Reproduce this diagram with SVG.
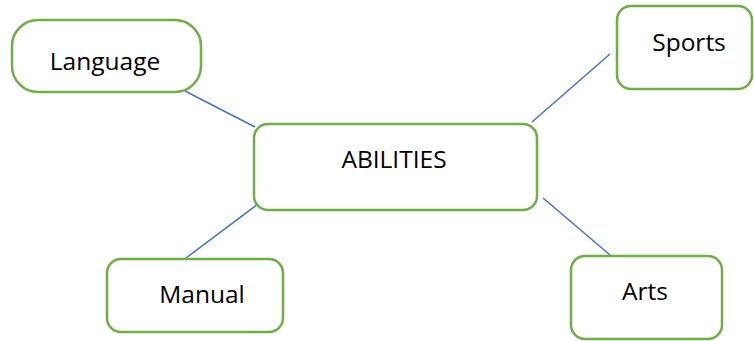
<svg xmlns="http://www.w3.org/2000/svg" width="754" height="341" viewBox="0 0 754 341">
<style>
.box{fill:#fff;stroke:#70AD47;stroke-width:2.5}
.lbl{font-family:"Open Sans","Liberation Sans",sans-serif;font-size:24.5px;fill:#000;text-anchor:middle}
.conn line{stroke:#4472C4;stroke-width:1.5}
</style>
<rect width="754" height="341" fill="#fff"/>
<g id="connectors" class="conn">
<line x1="185" y1="91" x2="255" y2="127"/>
<line x1="610" y1="54" x2="532" y2="122"/>
<line x1="266" y1="198" x2="186" y2="258"/>
<line x1="543" y1="198" x2="610" y2="255"/>
</g>
<g id="language"><rect class="box" x="12" y="20" width="189" height="72" rx="26"/><text class="lbl" x="105" y="70">Language</text></g>
<g id="sports"><rect class="box" x="617" y="6" width="135" height="83" rx="14"/><text class="lbl" x="689" y="51">Sports</text></g>
<g id="abilities"><rect class="box" x="254" y="124" width="283" height="86" rx="14"/><text class="lbl" x="394" y="168">ABILITIES</text></g>
<g id="manual"><rect class="box" x="107" y="259" width="176" height="73" rx="14"/><text class="lbl" x="202" y="303">Manual</text></g>
<g id="arts"><rect class="box" x="571" y="256" width="151" height="83" rx="14"/><text class="lbl" x="645" y="300">Arts</text></g>
</svg>
